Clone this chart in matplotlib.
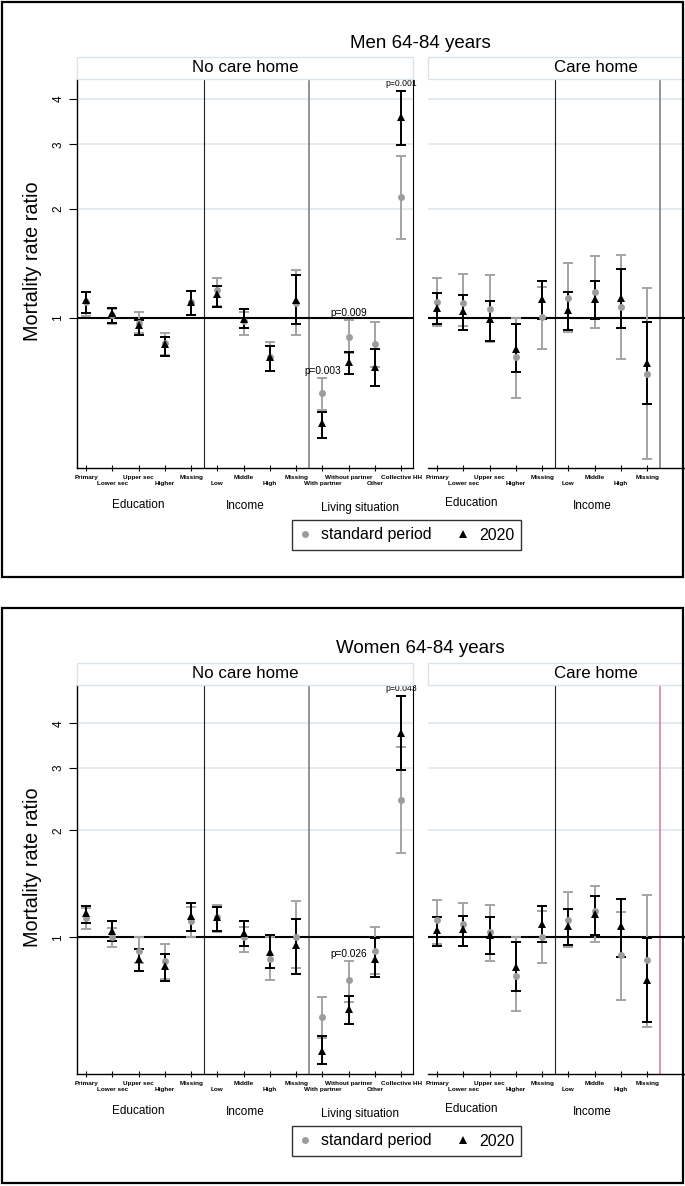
import numpy as np
import matplotlib
matplotlib.use('Agg')
import matplotlib.pyplot as plt
from matplotlib.patches import Rectangle
from matplotlib.lines import Line2D
import matplotlib.transforms as mtransforms

plt.rcParams['font.family'] = ['Liberation Sans', 'DejaVu Sans']

# ---------------- data ----------------
nch_labels = ["Primary", "Lower sec", "Upper sec", "Higher", "Missing",
              "Low", "Middle", "High", "Missing",
              "With partner", "Without partner", "Other", "Collective HH"]
ch_labels = nch_labels[:9]

# Men 64-84, no care home
men_nch_std_est = [1.11, 1.02, 0.97, 0.852, 1.11, 1.194, 0.983, 0.78, 1.10, 0.621, 0.888, 0.848, 2.15]
men_nch_std_lo = [1.01, 0.963, 0.91, 0.79, 1.02, 1.079, 0.898, 0.715, 0.898, 0.559, 0.80, 0.735, 1.65]
men_nch_std_hi = [1.18, 1.056, 1.04, 0.91, 1.19, 1.29, 1.04, 0.86, 1.355, 0.683, 0.987, 0.977, 2.78]
men_nch_20_est = [1.12, 1.03, 0.957, 0.847, 1.108, 1.162, 0.992, 0.783, 1.12, 0.513, 0.755, 0.732, 3.56]
men_nch_20_lo = [1.034, 0.97, 0.898, 0.788, 1.02, 1.074, 0.937, 0.716, 0.963, 0.469, 0.70, 0.652, 2.99]
men_nch_20_hi = [1.177, 1.067, 0.987, 0.888, 1.188, 1.227, 1.056, 0.839, 1.313, 0.551, 0.808, 0.82, 4.22]
men_pvals = {10: "p=0.003", 11: "p=0.009", 13: "p=0.001"}

# Men 64-84, care home
men_ch_std_est = [1.109, 1.097, 1.058, 0.78, 1.004, 1.137, 1.181, 1.07, 0.70]
men_ch_std_lo = [0.953, 0.953, 0.86, 0.602, 0.82, 0.913, 0.94, 0.77, 0.41]
men_ch_std_hi = [1.29, 1.32, 1.31, 1.0, 1.22, 1.419, 1.48, 1.49, 1.207]
men_ch_20_est = [1.067, 1.045, 0.992, 0.82, 1.126, 1.052, 1.126, 1.133, 0.75]
men_ch_20_lo = [0.963, 0.927, 0.866, 0.709, 0.992, 0.927, 0.992, 0.94, 0.58]
men_ch_20_hi = [1.169, 1.157, 1.116, 0.961, 1.266, 1.177, 1.266, 1.36, 0.977]

# Women 64-84, no care home
wom_nch_std_est = [1.134, 1.004, 0.913, 0.859, 1.11, 1.14, 1.0, 0.869, 1.004, 0.597, 0.758, 0.917, 2.44]
wom_nch_std_lo = [1.056, 0.937, 0.845, 0.763, 1.004, 1.033, 0.907, 0.758, 0.819, 0.520, 0.655, 0.788, 1.73]
wom_nch_std_hi = [1.207, 1.063, 1.004, 0.958, 1.215, 1.236, 1.067, 1.0, 1.261, 0.677, 0.856, 1.067, 3.44]
wom_nch_20_est = [1.171, 1.044, 0.869, 0.832, 1.144, 1.139, 1.026, 0.907, 0.953, 0.479, 0.628, 0.869, 3.76]
wom_nch_20_lo = [1.095, 0.974, 0.805, 0.755, 1.044, 1.044, 0.947, 0.819, 0.788, 0.439, 0.569, 0.771, 2.95]
wom_nch_20_hi = [1.226, 1.11, 0.927, 0.897, 1.247, 1.215, 1.11, 1.017, 1.126, 0.528, 0.684, 0.996, 4.79]
wom_pvals = {11: "p=0.026", 13: "p=0.043"}

# Women 64-84, care home
wom_ch_std_est = [1.119, 1.086, 1.033, 0.78, 1.0, 1.119, 1.189, 0.891, 0.865]
wom_ch_std_lo = [0.958, 0.943, 0.859, 0.618, 0.845, 0.937, 0.968, 0.667, 0.557]
wom_ch_std_hi = [1.269, 1.247, 1.236, 1.0, 1.189, 1.337, 1.393, 1.176, 1.311]
wom_ch_20_est = [1.049, 1.056, 1.017, 0.826, 1.09, 1.074, 1.159, 1.072, 0.758]
wom_ch_20_lo = [0.947, 0.943, 0.897, 0.704, 0.968, 0.953, 1.017, 0.878, 0.576]
wom_ch_20_hi = [1.139, 1.146, 1.139, 0.968, 1.226, 1.197, 1.305, 1.283, 0.996]

y_ticks = [1, 2, 3, 4]
# ---------------------------------------

W, H = 685, 1186
fig = plt.figure(figsize=(W / 100, H / 100), dpi=100)


def fx(x):
    return x / W


def fy(y):
    return 1 - y / H


GRAY = '#a4a4a4'
GRAYDOT = '#9c9c9c'
GRID = '#e3ebf0'
STRIP = '#d9e3ea'


def draw_series(ax, est, lo, hi, color, zerr, marker, ms, mcolor, zm):
    x = np.arange(1, len(est) + 1)
    est = np.asarray(est); lo = np.asarray(lo); hi = np.asarray(hi)
    ax.errorbar(x, est, yerr=[est - lo, hi - est], fmt='none', ecolor=color,
                elinewidth=1.4, capsize=3.6, capthick=1.4, zorder=zerr)
    ax.plot(x, est, marker, color=mcolor, ms=ms, ls='none', zorder=zm,
            markeredgewidth=0)


def setup_axes(ax, labels, ylim, left, sep2color):
    ax.set_yscale('log')
    ax.set_ylim(*ylim)
    ax.set_xlim(0.65, 13.45)
    ax.minorticks_off()
    for yv in [2, 3, 4]:
        ax.axhline(yv, color=GRID, lw=1.4, zorder=0.5)
    ax.axhline(1, color='black', lw=1.5, zorder=1.5)
    ax.axvline(5.5, color='#222222', lw=0.8, zorder=1)
    ax.axvline(9.5, color=sep2color, lw=1.1, zorder=1)
    ax.spines['top'].set_visible(False)
    ax.spines['bottom'].set_linewidth(1.0)
    if left:
        ax.spines['left'].set_linewidth(1.0)
        ax.spines['right'].set_linewidth(0.8)
        ax.set_yticks(y_ticks)
        ax.set_yticklabels([str(t) for t in y_ticks], rotation=90, va='center')
        ax.tick_params(axis='y', length=6, width=0.8, pad=3, labelsize=8.5)
    else:
        ax.spines['left'].set_visible(False)
        ax.spines['right'].set_visible(False)
        ax.set_yticks([])
    ax.set_xticks(np.arange(1, len(labels) + 1))
    ax.set_xticklabels(labels, fontsize=4.6, fontweight='bold')
    ax.tick_params(axis='x', direction='inout', length=5, width=0.8, pad=2.2)
    for i, t in enumerate(ax.xaxis.get_major_ticks()):
        if i % 2 == 1:
            t.set_pad(7.2)
    ax.set_facecolor('none')


panels = [
    dict(title="Men 64-84 years", dy=0, ylim=(0.387, 4.54),
         nch=(men_nch_std_est, men_nch_std_lo, men_nch_std_hi, men_nch_20_est, men_nch_20_lo, men_nch_20_hi),
         ch=(men_ch_std_est, men_ch_std_lo, men_ch_std_hi, men_ch_20_est, men_ch_20_lo, men_ch_20_hi),
         pvals=men_pvals, sep2='#777777'),
    dict(title="Women 64-84 years", dy=606, ylim=(0.412, 5.13),
         nch=(wom_nch_std_est, wom_nch_std_lo, wom_nch_std_hi, wom_nch_20_est, wom_nch_20_lo, wom_nch_20_hi),
         ch=(wom_ch_std_est, wom_ch_std_lo, wom_ch_std_hi, wom_ch_20_est, wom_ch_20_lo, wom_ch_20_hi),
         pvals=wom_pvals, sep2='#d6789a'),
]

for p in panels:
    dy = p['dy']
    # outer frame
    fig.add_artist(Rectangle((fx(2), fy(577 + dy)), fx(681), (575) / H,
                             transform=fig.transFigure, fill=False,
                             edgecolor='black', lw=1.6, zorder=10))
    fig.text(fx(420.5), fy(43 + dy), p['title'], ha='center', va='center', fontsize=13.5)
    fig.text(fx(33), fy(261.5 + dy), "Mortality rate ratio", rotation=90,
             ha='center', va='center', fontsize=14.3)

    top, bot = 79 + dy, 468 + dy
    axl = fig.add_axes([fx(77), fy(bot), (413 - 77) / W, (bot - top) / H])
    axr = fig.add_axes([fx(428), fy(bot), (764 - 428) / W, (bot - top) / H])
    setup_axes(axl, nch_labels, p['ylim'], True, '#777777')
    setup_axes(axr, ch_labels, p['ylim'], False, p['sep2'])

    for ax, d in [(axl, p['nch']), (axr, p['ch'])]:
        se, sl, sh, te, tl, th = d
        draw_series(ax, se, sl, sh, GRAY, 2, 'o', 5.0, GRAYDOT, 4)
        draw_series(ax, te, tl, th, 'black', 3, '^', 6.0, 'black', 5)

    # p-values
    se, sl, sh, te, tl, th = p['nch']
    for pos, txt in p['pvals'].items():
        top_val = max(sh[pos - 1], th[pos - 1])
        fs = 6.2 if pos == 13 else 7.3
        axl.annotate(txt, (pos, top_val), xytext=(0, 1.5), textcoords='offset points',
                     ha='center', va='bottom', fontsize=fs, zorder=6,
                     annotation_clip=False)

    # strips
    for x0, x1, txt in [(77, 413, "No care home"), (428, 764, "Care home")]:
        fig.add_artist(Rectangle((fx(x0), fy(79 + dy)), (x1 - x0) / W, 22 / H,
                                 transform=fig.transFigure, facecolor='white',
                                 edgecolor=STRIP, lw=1.0, zorder=3))
        fig.text(fx((x0 + x1) / 2), fy(68 + dy), txt, ha='center', va='center',
                 fontsize=12.2, zorder=4)

    # group labels
    for ax, pos, ypx, txt in [(axl, 3.0, 505, "Education"), (axl, 7.05, 506, "Income"),
                              (axl, 11.45, 508, "Living situation"),
                              (axr, 2.3, 503, "Education"), (axr, 6.9, 506, "Income")]:
        tr = mtransforms.blended_transform_factory(ax.transData, fig.transFigure)
        ax.text(pos, fy(ypx + dy), txt, transform=tr, ha='center', va='center',
                fontsize=8.5, clip_on=False)

    # legend
    handles = [Line2D([], [], marker='o', color=GRAYDOT, ls='none', ms=5.0, markeredgewidth=0),
               Line2D([], [], marker='^', color='black', ls='none', ms=6.0, markeredgewidth=0)]
    leg = fig.legend(handles, ["standard period", "2020"], loc='center',
                     bbox_to_anchor=(fx(406.5), fy(535 + dy)), ncol=2,
                     fontsize=11.4, frameon=True, fancybox=False, edgecolor='black',
                     handlelength=0.8, handletextpad=0.6, columnspacing=1.6,
                     borderpad=0.45)
    leg.get_frame().set_linewidth(1.0)

fig.savefig('out.png', dpi=100)
